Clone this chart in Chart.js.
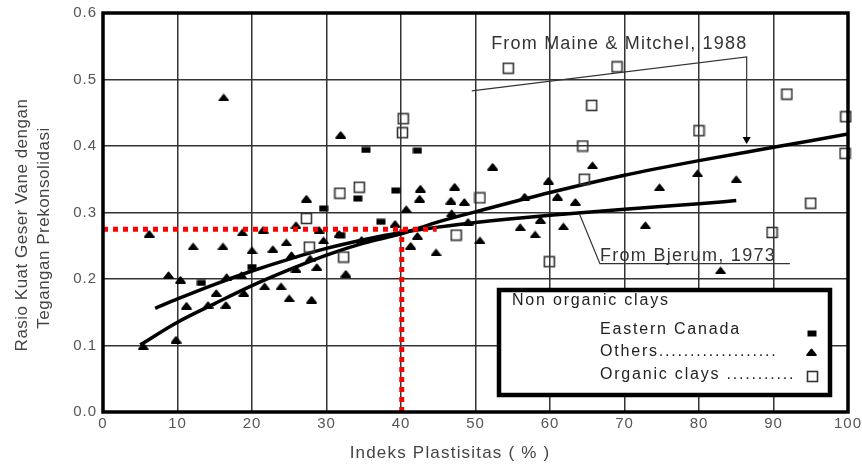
<!DOCTYPE html>
<html>
<head>
<meta charset="utf-8">
<script src="https://cdn.jsdelivr.net/npm/chart.js@4.4.1/dist/chart.umd.min.js"></script>
<style>
  html, body { margin: 0; padding: 0; background: #fff; }
  #wrap { width: 862px; height: 467px; }
</style>
</head>
<body>
<div id="wrap"><canvas id="chart" width="862" height="467"></canvas></div>
<script>
// Data (x = Indeks Plastisitas, y = rasio)
const eastCanadaPI    = [13.2, 20.0, 29.6, 34.2, 35.3, 42.2, 39.3, 37.3, 31.9];
const eastCanadaRatio = [0.194, 0.218, 0.306, 0.321, 0.394, 0.393, 0.333, 0.286, 0.266];

const othersPI = [16.2, 31.9, 27.3, 52.3, 65.7, 59.8, 42.6, 42.5, 47.2, 46.7, 48.5, 56.6, 61.0, 63.4, 40.7,
                  74.7, 79.8, 85.0, 72.8, 61.8, 58.7, 56.0, 58.0, 46.8, 49.0, 50.6, 42.2, 41.3, 44.7, 39.2,
                  21.5, 25.9, 29.0, 24.6, 22.8, 29.6, 25.3, 27.8, 25.9, 28.7, 32.6, 21.7, 23.9, 25.0, 28.0,
                  6.2, 12.1, 16.1, 8.8, 10.4, 11.2, 9.8, 14.1, 15.2, 16.5, 18.9, 16.6, 18.6, 20.0, 18.7,
                  31.7, 82.9, 5.4, 34.7];
const othersRatio = [0.473, 0.417, 0.321, 0.369, 0.371, 0.348, 0.336, 0.321, 0.339, 0.318, 0.316, 0.324, 0.324, 0.316, 0.305,
                     0.338, 0.359, 0.350, 0.281, 0.279, 0.289, 0.278, 0.267, 0.299, 0.286, 0.258, 0.265, 0.250, 0.240, 0.283,
                     0.274, 0.281, 0.274, 0.255, 0.245, 0.258, 0.236, 0.231, 0.215, 0.218, 0.208, 0.189, 0.189, 0.171, 0.169,
                     0.268, 0.249, 0.249, 0.206, 0.199, 0.160, 0.109, 0.161, 0.179, 0.161, 0.179, 0.203, 0.206, 0.243, 0.270,
                     0.268, 0.213, 0.099, 0.259];

const organicPI    = [54.4, 69.0, 40.3, 40.2, 65.6, 80.0, 91.8, 99.7, 99.6, 64.4, 64.6, 95.0, 89.8, 59.9, 50.6,
                      47.4, 31.8, 34.4, 27.3, 27.7, 32.3];
const organicRatio = [0.517, 0.519, 0.441, 0.420, 0.461, 0.423, 0.478, 0.444, 0.389, 0.400, 0.350, 0.314, 0.270, 0.226, 0.322,
                      0.266, 0.329, 0.338, 0.291, 0.248, 0.233];

// fitted curves
const maineCurvePI    = [5, 10, 15, 20, 25, 30, 35, 40, 45, 50, 60, 70, 80, 90, 100];
const maineCurveRatio = [0.101, 0.135, 0.163, 0.190, 0.214, 0.236, 0.254, 0.268, 0.286, 0.301, 0.330, 0.356, 0.378, 0.398, 0.418];
const bjerumCurvePI    = [7, 10, 15, 20, 25, 30, 35, 40, 45, 50, 60, 70, 80, 85];
const bjerumCurveRatio = [0.156, 0.170, 0.192, 0.212, 0.230, 0.246, 0.259, 0.270, 0.278, 0.285, 0.296, 0.305, 0.313, 0.318];

// red reading lines (PI = 40 -> 0.275)
const readHorizPI = [0, 44.8];
const readHorizRatio = [0.275, 0.275];
const readVertPI = [40.1, 40.1];
const readVertRatio = [0, 0.275];

// leader lines of the two labels
const maineLeaderPI = [49.5, 86.4, 86.4];
const maineLeaderRatio = [0.483, 0.534, 0.41];
const bjerumLeaderPI = [64.0, 66.7, 92.2];
const bjerumLeaderRatio = [0.2965, 0.223, 0.223];

const xTicks = [0, 10, 20, 30, 40, 50, 60, 70, 80, 90, 100];
const yTicks = [0, 0.1, 0.2, 0.3, 0.4, 0.5, 0.6];

const pts = (xs, ys) => xs.map((x, i) => ({ x: x, y: ys[i] }));

// marker images
function makeMarker(w, h, draw) {
    const c = document.createElement('canvas');
    c.width = w; c.height = h;
    draw(c.getContext('2d'));
    return c;
}
const triMarker = makeMarker(11, 8, g => {
    g.fillStyle = '#000'; g.strokeStyle = '#000';
    g.lineWidth = 2; g.lineJoin = 'round';
    g.beginPath(); g.moveTo(1.2, 7); g.lineTo(5.5, 1.5); g.lineTo(9.8, 7); g.closePath();
    g.fill(); g.stroke();
});
const sqMarker = makeMarker(10, 7, g => {
    g.fillStyle = '#000'; g.fillRect(0.5, 0.5, 9, 6);
});
const openMarker = makeMarker(13, 13, g => {
    g.strokeStyle = '#333'; g.lineWidth = 1.6; g.strokeRect(1.5, 1.5, 10, 10);
});

const FONT = "'Liberation Sans', Arial, sans-serif";

const decorPlugin = {
    id: 'decor',
    beforeDraw(chart) {
        chart.ctx.letterSpacing = '1px';
    },
    afterDraw(chart) {
        const ctx = chart.ctx;
        const a = chart.chartArea;
        const xs = chart.scales.x, ys = chart.scales.y;
        ctx.save();
        ctx.letterSpacing = '0px';

        // frame
        ctx.strokeStyle = '#000';
        ctx.lineWidth = 3.5;
        ctx.strokeRect(a.left, a.top, a.right - a.left, a.bottom - a.top);

        // curve labels
        ctx.fillStyle = '#333';
        ctx.font = '18px ' + FONT;
        ctx.textBaseline = 'middle';
        ctx.textAlign = 'left';
        ctx.letterSpacing = '1.2px';
        ctx.fillText('From Maine & Mitchel, 1988', xs.getPixelForValue(52.1), ys.getPixelForValue(0.553));
        ctx.letterSpacing = '1.3px';
        ctx.fillText('From Bjerum, 1973', xs.getPixelForValue(66.7), ys.getPixelForValue(0.235));

        // legend box
        ctx.fillStyle = '#fff';
        ctx.fillRect(499, 290, 331, 105);
        ctx.lineWidth = 4.5;
        ctx.strokeStyle = '#000';
        ctx.strokeRect(499, 290, 331, 105);
        ctx.fillStyle = '#222';
        ctx.font = '16px ' + FONT;
        ctx.letterSpacing = '1.8px';
        ctx.fillText('Non organic clays', 512, 301);
        ctx.fillText('Eastern Canada', 600, 330);
        ctx.fillText('Others...................', 600, 352);
        ctx.fillText('Organic clays ...........', 600, 375);
        ctx.drawImage(sqMarker, 807, 330);
        ctx.drawImage(triMarker, 806, 348);
        ctx.drawImage(openMarker, 806, 370);

        // axis titles
        ctx.fillStyle = '#444';
        ctx.font = '17px ' + FONT;
        ctx.letterSpacing = '1.2px';
        ctx.textAlign = 'center';
        ctx.fillText('Indeks Plastisitas ( % )', 450, 453);

        ctx.letterSpacing = '0.5px';
        ctx.textBaseline = 'alphabetic';
        ctx.save();
        ctx.translate(27, 225);
        ctx.rotate(-Math.PI / 2);
        ctx.fillText('Rasio Kuat Geser Vane dengan', 0, 0);
        ctx.restore();
        ctx.save();
        ctx.translate(49, 228);
        ctx.rotate(-Math.PI / 2);
        ctx.fillText('Tegangan Prekonsolidasi', 0, 0);
        ctx.restore();

        ctx.restore();
    }
};

const ctx = document.getElementById('chart').getContext('2d');

const config = {
    type: 'scatter',
    data: {
        datasets: [
            {
                label: 'read-h', data: pts(readHorizPI, readHorizRatio), showLine: true,
                borderColor: '#ff0000', borderWidth: 5, borderDash: [5, 5], pointRadius: 0, order: 0
            },
            {
                label: 'read-v', data: pts(readVertPI, readVertRatio), showLine: true,
                borderColor: '#ff0000', borderWidth: 5, borderDash: [5, 5], pointRadius: 0, order: 0
            },
            {
                label: 'Maine & Mitchel', data: pts(maineCurvePI, maineCurveRatio), showLine: true,
                borderColor: '#000', borderWidth: 3.5, pointRadius: 0, tension: 0.4,
                cubicInterpolationMode: 'monotone', order: 2
            },
            {
                label: 'Bjerum', data: pts(bjerumCurvePI, bjerumCurveRatio), showLine: true,
                borderColor: '#000', borderWidth: 3.5, pointRadius: 0, tension: 0.4,
                cubicInterpolationMode: 'monotone', order: 2
            },
            {
                label: 'maine-leader', data: pts(maineLeaderPI, maineLeaderRatio), showLine: true,
                borderColor: '#333', borderWidth: 1.2, pointRadius: [0, 0, 3.5], pointStyle: 'triangle',
                rotation: 180, pointBackgroundColor: '#000', pointBorderColor: '#000', order: 3
            },
            {
                label: 'bjerum-leader', data: pts(bjerumLeaderPI, bjerumLeaderRatio), showLine: true,
                borderColor: '#333', borderWidth: 1.2, pointRadius: 0, order: 3
            },
            {
                label: 'Eastern Canada', data: pts(eastCanadaPI, eastCanadaRatio),
                pointStyle: sqMarker, pointRadius: 5, order: 1
            },
            {
                label: 'Others', data: pts(othersPI, othersRatio),
                pointStyle: triMarker, pointRadius: 5, order: 1
            },
            {
                label: 'Organic clays', data: pts(organicPI, organicRatio),
                pointStyle: openMarker, pointRadius: 6, order: 1, clip: 10
            }
        ]
    },
    options: {
        responsive: false,
        animation: false,
        events: [],
        layout: { padding: { top: 13, right: 14, left: 0, bottom: 0 } },
        plugins: {
            legend: { display: false },
            tooltip: { enabled: false }
        },
        scales: {
            x: {
                type: 'linear', min: 0, max: 100,
                afterBuildTicks: s => { s.ticks = xTicks.map(v => ({ value: v })); },
                afterFit: s => { s.height = 55; s.paddingLeft = 0; s.paddingRight = 0; },
                grid: { color: '#333', lineWidth: 1.5, drawTicks: false },
                border: { display: false },
                ticks: { color: '#555', font: { family: FONT, size: 15 }, padding: 3, maxRotation: 0 }
            },
            y: {
                type: 'linear', min: 0, max: 0.6,
                afterBuildTicks: s => { s.ticks = yTicks.map(v => ({ value: v })); },
                afterFit: s => { s.width = 103; s.paddingTop = 0; s.paddingBottom = 0; },
                grid: { color: '#333', lineWidth: 1.5, drawTicks: false },
                border: { display: false },
                ticks: {
                    color: '#555', font: { family: FONT, size: 15 }, padding: 6,
                    callback: v => v.toFixed(1)
                }
            }
        }
    },
    plugins: [decorPlugin]
};

new Chart(ctx, config);
</script>
</body>
</html>
